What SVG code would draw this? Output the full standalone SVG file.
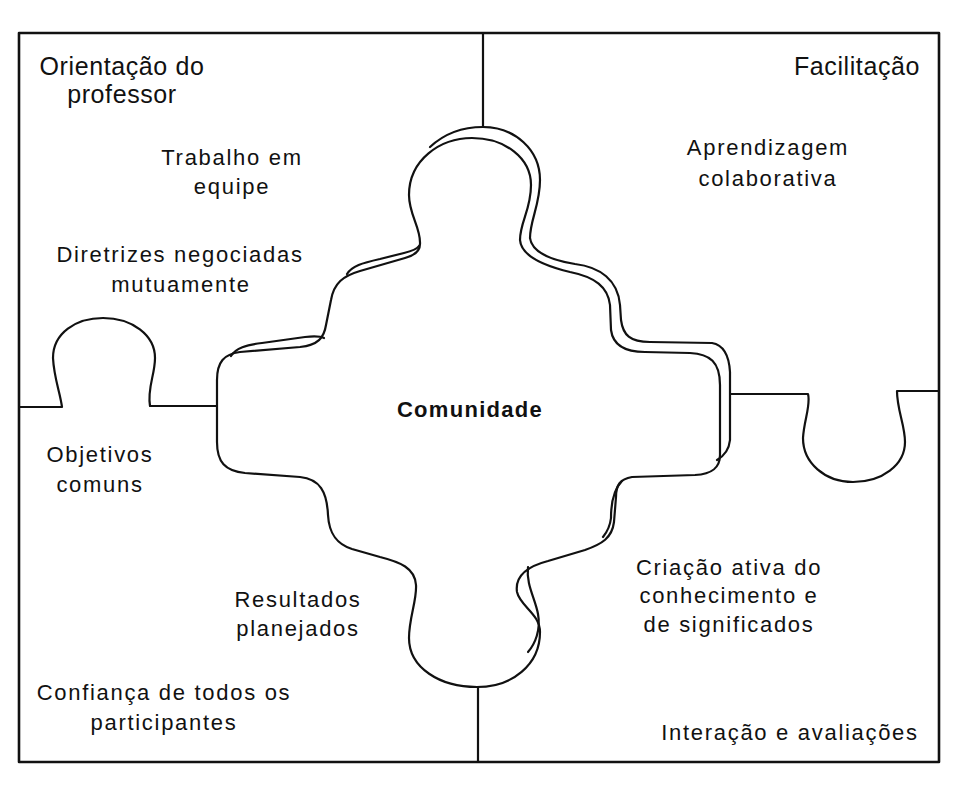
<svg xmlns="http://www.w3.org/2000/svg" width="971" height="790" viewBox="0 0 971 790">
<style>
.ln{fill:none;stroke:#111;stroke-width:2.2;stroke-linejoin:round;stroke-linecap:round}
.t{font-family:"Liberation Sans",Arial,sans-serif;font-size:22px;letter-spacing:1.7px;fill:#111;text-anchor:middle}
.c{font-size:25px;letter-spacing:0.6px}
.b{font-weight:bold;letter-spacing:1.3px}
</style>
<rect width="971" height="790" fill="#fff"/>
<g id="frame">
<rect x="19" y="33" width="920" height="729" class="ln" style="stroke-width:2.6"/>
</g>
<g id="connectors">
<path class="ln" d="M483,33 L483,127"/>
<path class="ln" d="M478,687 L478,762"/>
<path class="ln" d="M19,407 L62,407 C60,392 54,378 53,358 C53,333 76,318 103,318 C132,318 155,335 155,358 C155,375 147,388 150,406 L217,406"/>
<path class="ln" d="M731,394 L808,394 C811,405 804,420 803,438 C803,463 825,482 853,482 C882,482 905,465 905,442 C905,425 897,410 897,391 L939,391"/>
</g>
<g id="comunidade">
<path class="ln" d="M420,244 C421,228 409,215 409,195 C409,160 440,138 472,138 C505,138 531,158 531,185 C531,210 520,222 520,240 C521,256 545,266 570,272 C595,277 608,287 610,305 L611,330 C613,345 625,352 645,352 L690,353 C710,354 720,362 720,385 L720,455 C720,468 712,474 695,475 L632,477 C620,479 616,485 616,497 L614,522 C612,538 602,544 585,550 L548,561 C525,567 515,578 517,592 C520,606 540,614 540,632 C540,665 512,687 477,687 C440,687 409,668 409,638 C409,618 417,600 416,585 C415,568 400,562 380,557 L352,549 C336,544 329,533 328,515 C327,492 320,479 300,477 L245,473 C225,471 217,462 217,442 L217,380 C217,362 224,354 240,352 L300,347 C318,345 324,338 326,325 L331,300 C334,283 343,276 360,271 L405,258 C416,255 420,250 420,244 Z"/>
<path class="ln" d="M430,147 C445,133 462,127 483,127 C515,127 540,150 540,180 C540,205 530,220 530,238 C532,252 550,260 575,264 C600,267 618,280 620,305 L621,320 C623,335 630,342 650,342 L712,343 C724,345 729,355 730,372 L730,440 C729,450 724,456 717,460"/>
<path class="ln" d="M231,356 C236,348 246,345 262,343 L305,337 C314,336 320,336 324,338"/>
<path class="ln" d="M347,274 C352,266 362,263 380,259 L404,253 C412,251 417,249 419,246"/>
<path class="ln" d="M622,481 C613,490 611,503 611,518 C610,527 607,532 603,537"/>
<path class="ln" d="M528,567 C526,585 535,598 538,614 C541,630 535,644 528,652"/>
<text class="t b" x="470" y="417">Comunidade</text>
</g>
<g id="orientacao"><text class="t c" x="122" y="75">Orientação do</text><text class="t c" x="122" y="103">professor</text></g>
<g id="facilitacao"><text class="t c" x="857" y="75">Facilitação</text></g>
<g id="trabalho"><text class="t" x="232" y="165">Trabalho em</text><text class="t" x="232" y="194">equipe</text></g>
<g id="diretrizes"><text class="t" x="180" y="262">Diretrizes negociadas</text><text class="t" x="181" y="292">mutuamente</text></g>
<g id="aprendizagem"><text class="t" x="768" y="155">Aprendizagem</text><text class="t" x="768" y="186">colaborativa</text></g>
<g id="objetivos"><text class="t" x="100" y="462">Objetivos</text><text class="t" x="100" y="492">comuns</text></g>
<g id="resultados"><text class="t" x="298" y="607">Resultados</text><text class="t" x="298" y="636">planejados</text></g>
<g id="confianca"><text class="t" x="164" y="700">Confiança de todos os</text><text class="t" x="164" y="730">participantes</text></g>
<g id="criacao"><text class="t" x="729" y="575">Criação ativa do</text><text class="t" x="729" y="603">conhecimento e</text><text class="t" x="729" y="632">de significados</text></g>
<g id="interacao"><text class="t" x="790" y="740">Interação e avaliações</text></g>
</svg>
